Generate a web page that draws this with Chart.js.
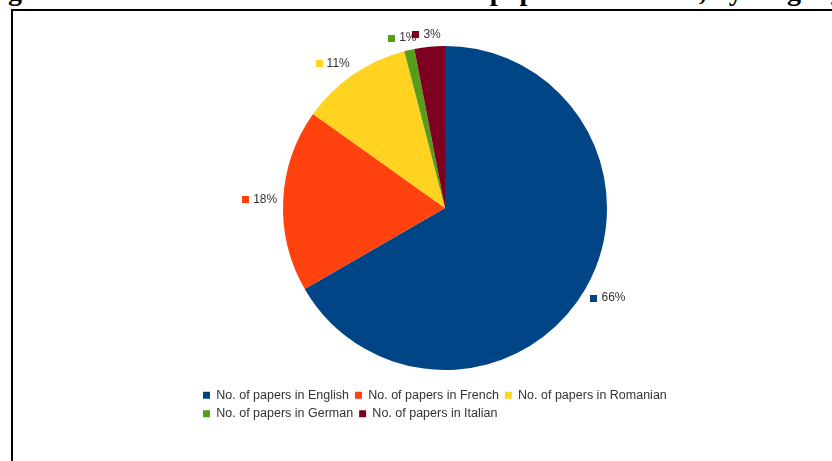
<!DOCTYPE html>
<html>
<head>
<meta charset="utf-8">
<script src="https://cdn.jsdelivr.net/npm/chart.js@4/dist/chart.umd.min.js"></script>
<style>
  html, body { margin: 0; padding: 0; background: #fff; width: 832px; height: 461px; overflow: hidden; }
  #title { position: absolute; left: -17px; top: -23px; font: bold 28px 'Liberation Serif', 'Times New Roman', serif; line-height: 28px; white-space: nowrap; color: #000; }
  #frame { position: absolute; left: 11px; top: 9px; width: 900px; height: 500px; border-left: 2px solid #000; border-top: 2px solid #000; }
  #wrap { position: absolute; left: 0; top: 0; width: 832px; height: 461px; }
</style>
</head>
<body>
<div id="title">Figure 7. ASE SOME Student Conference papers 2017-2021, by language</div>
<div id="frame"></div>
<div id="wrap"><canvas id="c"></canvas></div>
<script>
// Share of conference papers by language (percent)
const languages = ['English', 'French', 'Romanian', 'German', 'Italian'];
const legendLabels = languages.map(l => 'No. of papers in ' + l);
const shares = [66, 18, 11, 1, 3];
const colors = ['#004586', '#ff420e', '#ffd320', '#579d1c', '#7e0021'];

// Percentage labels outside each slice, with a small colour key square
const sliceLabels = {
  id: 'sliceLabels',
  afterDatasetsDraw(chart) {
    const ctx = chart.ctx;
    const meta = chart.getDatasetMeta(0);
    ctx.save();
    ctx.font = '12px "Liberation Sans", Arial, sans-serif';
    ctx.textBaseline = 'middle';
    ctx.textAlign = 'left';
    meta.data.forEach((arc, i) => {
      const p = arc.getProps(['x', 'y', 'startAngle', 'endAngle', 'outerRadius'], true);
      const mid = (p.startAngle + p.endAngle) / 2;
      const dx = Math.cos(mid), dy = Math.sin(mid);
      const r = p.outerRadius + 6;
      const px = p.x + dx * r, py = p.y + dy * r;
      const text = shares[i] + '%';
      const tw = ctx.measureText(text).width;
      const box = 7, gap = 4, h = 12;
      const w = box + gap + tw;
      const fx = Math.min(1, Math.max(0, 0.5 - 0.9 * dx));
      const fy = Math.min(1, Math.max(0, 0.5 - 1.1 * dy));
      const left = px - w * fx, top = py - h * fy;
      ctx.fillStyle = colors[i];
      ctx.fillRect(Math.round(left), Math.round(top + (h - box) / 2), box, box);
      ctx.fillStyle = '#333';
      ctx.fillText(text, left + box + gap, top + h / 2);
    });
    ctx.restore();
  }
};

new Chart(document.getElementById('c'), {
  type: 'pie',
  data: {
    labels: legendLabels,
    datasets: [{
      data: shares,
      backgroundColor: colors,
      borderWidth: 0,
      radius: 162
    }]
  },
  options: {
    responsive: true,
    maintainAspectRatio: false,
    animation: false,
    layout: { padding: { left: 197, right: 139, top: 33, bottom: 31 } },
    plugins: {
      legend: {
        position: 'bottom',
        align: 'start',
        labels: {
          boxWidth: 7,
          boxHeight: 7,
          padding: 6,
          color: '#333',
          font: { family: "'Liberation Sans', Arial, sans-serif", size: 12.5 }
        }
      },
      tooltip: { enabled: false }
    }
  },
  plugins: [sliceLabels]
});
</script>
</body>
</html>
